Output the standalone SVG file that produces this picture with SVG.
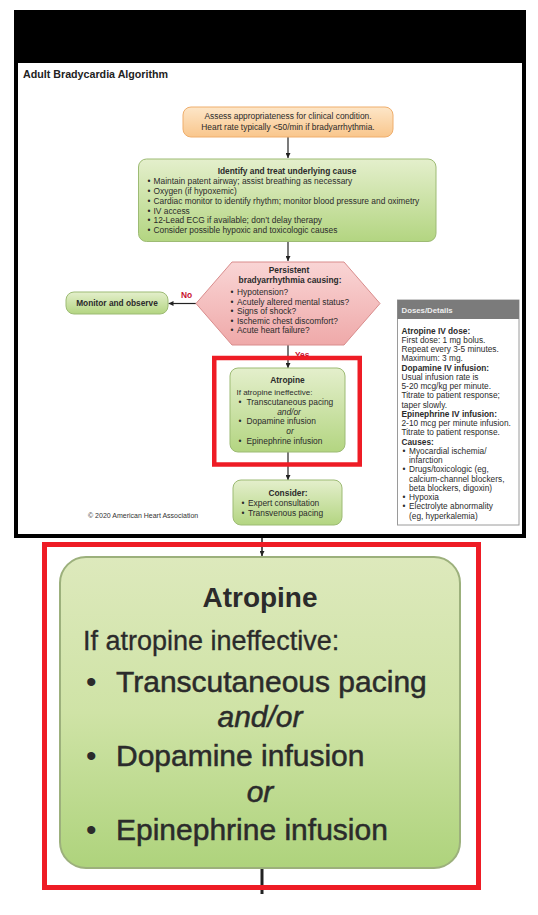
<svg xmlns="http://www.w3.org/2000/svg" width="538" height="915" viewBox="0 0 538 915">
<style>
text{font-family:"Liberation Sans",Arial,sans-serif;fill:#2b2b2b}
.t{font-size:8.4px}
.b{font-weight:bold}
.c{text-anchor:middle}
.i{font-style:italic}
.s{font-size:8.3px}
.red{fill:#c8102e;font-weight:bold;font-size:8.4px}
.ln{stroke:#222;stroke-width:1.2;fill:none}
.gbox{fill:url(#gG);stroke:#9dbb74;stroke-width:1}
.big{font-size:30px;stroke:#2b2b2b;stroke-width:0.5}
.bul{font-size:30px}
</style>
<defs>
<linearGradient id="gG" x1="0" y1="0" x2="0" y2="1"><stop offset="0" stop-color="#e4efcc"/><stop offset="1" stop-color="#b3d581"/></linearGradient>
<linearGradient id="gO" x1="0" y1="0" x2="0" y2="1"><stop offset="0" stop-color="#fde6c8"/><stop offset="1" stop-color="#f9c68c"/></linearGradient>
<linearGradient id="gP" x1="0" y1="0" x2="0" y2="1"><stop offset="0" stop-color="#f9d5d5"/><stop offset="1" stop-color="#efa9a9"/></linearGradient>
<linearGradient id="gB" x1="0" y1="0" x2="0" y2="1"><stop offset="0" stop-color="#dde9bc"/><stop offset="0.5" stop-color="#cfe3a6"/><stop offset="1" stop-color="#aed37c"/></linearGradient>
<marker id="ah" viewBox="0 0 10 10" refX="10" refY="5" markerWidth="6" markerHeight="5" markerUnits="userSpaceOnUse" orient="auto"><path d="M0,0 L10,5 L0,10 z" fill="#222"/></marker>
</defs>
<rect x="0" y="0" width="538" height="915" fill="#fff"/>
<g id="frame">
<rect x="14" y="10" width="512" height="53" fill="#000"/>
<rect x="16" y="12" width="508" height="524" fill="none" stroke="#000" stroke-width="4"/>
</g>
<text x="23" y="77.5" class="b" style="font-size:10.7px;fill:#222">Adult Bradycardia Algorithm</text>
<g id="connectors">
<line class="ln" x1="288" y1="137" x2="288" y2="158" marker-end="url(#ah)"/>
<line class="ln" x1="288" y1="242" x2="288" y2="261" marker-end="url(#ah)"/>
<line class="ln" x1="196" y1="303.5" x2="168.5" y2="303.5" marker-end="url(#ah)"/>
<line class="ln" x1="288" y1="345" x2="288" y2="368" marker-end="url(#ah)"/>
<line class="ln" x1="288" y1="452" x2="288" y2="480" marker-end="url(#ah)"/>
<text x="181" y="298" class="red">No</text>
<text x="295" y="357.5" class="red">Yes</text>
<line x1="262" y1="538" x2="262" y2="556" stroke="#222" stroke-width="1.5" marker-end="url(#ah)"/>
<line x1="262" y1="868" x2="262" y2="894" stroke="#222" stroke-width="3"/>
</g>
<g id="assess">
<rect x="183" y="107" width="210" height="30" rx="8" fill="url(#gO)" stroke="#efae6c" stroke-width="1"/>
<text x="288" y="119" class="t c">Assess appropriateness for clinical condition.</text>
<text x="288" y="130" class="t c">Heart rate typically &lt;50/min if bradyarrhythmia.</text>
</g>
<g id="identify">
<rect x="138.5" y="159" width="297.5" height="82.5" rx="8" class="gbox"/>
<text x="287" y="173.5" class="t b c">Identify and treat underlying cause</text>
<text class="t" y="184.2"><tspan x="147.5">•</tspan><tspan x="153.5">Maintain patent airway; assist breathing as necessary</tspan></text>
<text class="t" y="194"><tspan x="147.5">•</tspan><tspan x="153.5">Oxygen (if hypoxemic)</tspan></text>
<text class="t" y="203.8"><tspan x="147.5">•</tspan><tspan x="153.5">Cardiac monitor to identify rhythm; monitor blood pressure and oximetry</tspan></text>
<text class="t" y="213.6"><tspan x="147.5">•</tspan><tspan x="153.5">IV access</tspan></text>
<text class="t" y="223.4"><tspan x="147.5">•</tspan><tspan x="153.5">12-Lead ECG if available; don’t delay therapy</tspan></text>
<text class="t" y="233.2"><tspan x="147.5">•</tspan><tspan x="153.5">Consider possible hypoxic and toxicologic causes</tspan></text>
</g>
<g id="persistent">
<polygon points="232,262 344,262 380,303.5 344,345 232,345 196,303.5" fill="url(#gP)" stroke="#d98c8c" stroke-width="1"/>
<text x="289" y="273" class="t b c">Persistent</text>
<text x="290" y="283" class="t b c">bradyarrhythmia causing:</text>
<text class="t" y="295"><tspan x="230.5">•</tspan><tspan x="237">Hypotension?</tspan></text>
<text class="t" y="304.6"><tspan x="230.5">•</tspan><tspan x="237">Acutely altered mental status?</tspan></text>
<text class="t" y="314.2"><tspan x="230.5">•</tspan><tspan x="237">Signs of shock?</tspan></text>
<text class="t" y="323.8"><tspan x="230.5">•</tspan><tspan x="237">Ischemic chest discomfort?</tspan></text>
<text class="t" y="333.4"><tspan x="230.5">•</tspan><tspan x="237">Acute heart failure?</tspan></text>
</g>
<g id="monitor">
<rect x="66" y="292" width="102" height="22" rx="8" class="gbox"/>
<text x="117" y="306" class="b c" style="font-size:8.3px">Monitor and observe</text>
</g>
<g id="atropine">
<rect x="230" y="368" width="115" height="84" rx="8" class="gbox"/>
<text x="287.5" y="383" class="t b c">Atropine</text>
<text x="236.5" y="394.5" style="font-size:8px">If atropine ineffective:</text>
<text class="t" y="405"><tspan x="238.5">•</tspan><tspan x="246.5">Transcutaneous pacing</tspan></text>
<text x="289" y="414.5" class="t i c">and/or</text>
<text class="t" y="424"><tspan x="238.5">•</tspan><tspan x="246.5">Dopamine infusion</tspan></text>
<text x="290" y="433.5" class="t i c">or</text>
<text class="t" y="443.5"><tspan x="238.5">•</tspan><tspan x="246.5">Epinephrine infusion</tspan></text>
</g>
<g id="consider">
<rect x="233" y="480" width="109" height="45" rx="8" class="gbox"/>
<text x="288" y="495.5" class="t b c">Consider:</text>
<text class="t" y="506"><tspan x="241.5">•</tspan><tspan x="248">Expert consultation</tspan></text>
<text class="t" y="516"><tspan x="241.5">•</tspan><tspan x="248">Transvenous pacing</tspan></text>
</g>
<g id="doses">
<rect x="397.5" y="300" width="121.5" height="225" fill="#fff" stroke="#9a9a9a" stroke-width="1"/>
<rect x="397.5" y="300" width="121.5" height="19" fill="#7b7b7b"/>
<text x="401.5" y="313" class="b" style="font-size:7.8px;fill:#eeeeee">Doses/Details</text>
<text x="401.5" y="333.5" class="s b">Atropine IV dose:</text>
<text x="401.5" y="342.8" class="s">First dose: 1 mg bolus.</text>
<text x="401.5" y="352" class="s">Repeat every 3-5 minutes.</text>
<text x="401.5" y="361.3" class="s">Maximum: 3 mg.</text>
<text x="401.5" y="370.5" class="s b">Dopamine IV infusion:</text>
<text x="401.5" y="379.8" class="s">Usual infusion rate is</text>
<text x="401.5" y="389" class="s">5-20 mcg/kg per minute.</text>
<text x="401.5" y="398.3" class="s">Titrate to patient response;</text>
<text x="401.5" y="407.5" class="s">taper slowly.</text>
<text x="401.5" y="416.8" class="s b">Epinephrine IV infusion:</text>
<text x="401.5" y="426" class="s">2-10 mcg per minute infusion.</text>
<text x="401.5" y="435.3" class="s">Titrate to patient response.</text>
<text x="401.5" y="444.5" class="s b">Causes:</text>
<text class="s" y="453.8"><tspan x="402.5">•</tspan><tspan x="409">Myocardial ischemia/</tspan></text>
<text x="409" y="463" class="s">infarction</text>
<text class="s" y="472.3"><tspan x="402.5">•</tspan><tspan x="409">Drugs/toxicologic (eg,</tspan></text>
<text x="409" y="481.5" class="s">calcium-channel blockers,</text>
<text x="409" y="490.8" class="s">beta blockers, digoxin)</text>
<text class="s" y="500"><tspan x="402.5">•</tspan><tspan x="409">Hypoxia</tspan></text>
<text class="s" y="509.3"><tspan x="402.5">•</tspan><tspan x="409">Electrolyte abnormality</tspan></text>
<text x="409" y="518.5" class="s">(eg, hyperkalemia)</text>
</g>
<text x="88" y="517.5" style="font-size:7px;fill:#333">© 2020 American Heart Association</text>
<rect id="highlight-top" x="214.25" y="358" width="145.5" height="106.5" fill="none" stroke="#ee1c25" stroke-width="4.5"/>
<g id="atropine-zoom">
<rect x="60" y="557" width="400" height="311" rx="26" fill="url(#gB)" stroke="#9cb07c" stroke-width="2"/>
<text x="260" y="607" class="b c" style="font-size:28px">Atropine</text>
<text x="83" y="650" style="font-size:27px;stroke:#2b2b2b;stroke-width:0.3">If atropine ineffective:</text>
<text x="86" y="692" class="bul">•</text>
<text x="116" y="692" class="big">Transcutaneous pacing</text>
<text x="260" y="727" class="big i c">and/or</text>
<text x="86" y="766" class="bul">•</text>
<text x="116" y="766" class="big">Dopamine infusion</text>
<text x="260" y="802" class="big i c">or</text>
<text x="86" y="840" class="bul">•</text>
<text x="116" y="840" class="big">Epinephrine infusion</text>
</g>
<rect id="highlight-zoom" x="44.5" y="544.5" width="434" height="343" fill="none" stroke="#ee1c25" stroke-width="5"/>
</svg>
